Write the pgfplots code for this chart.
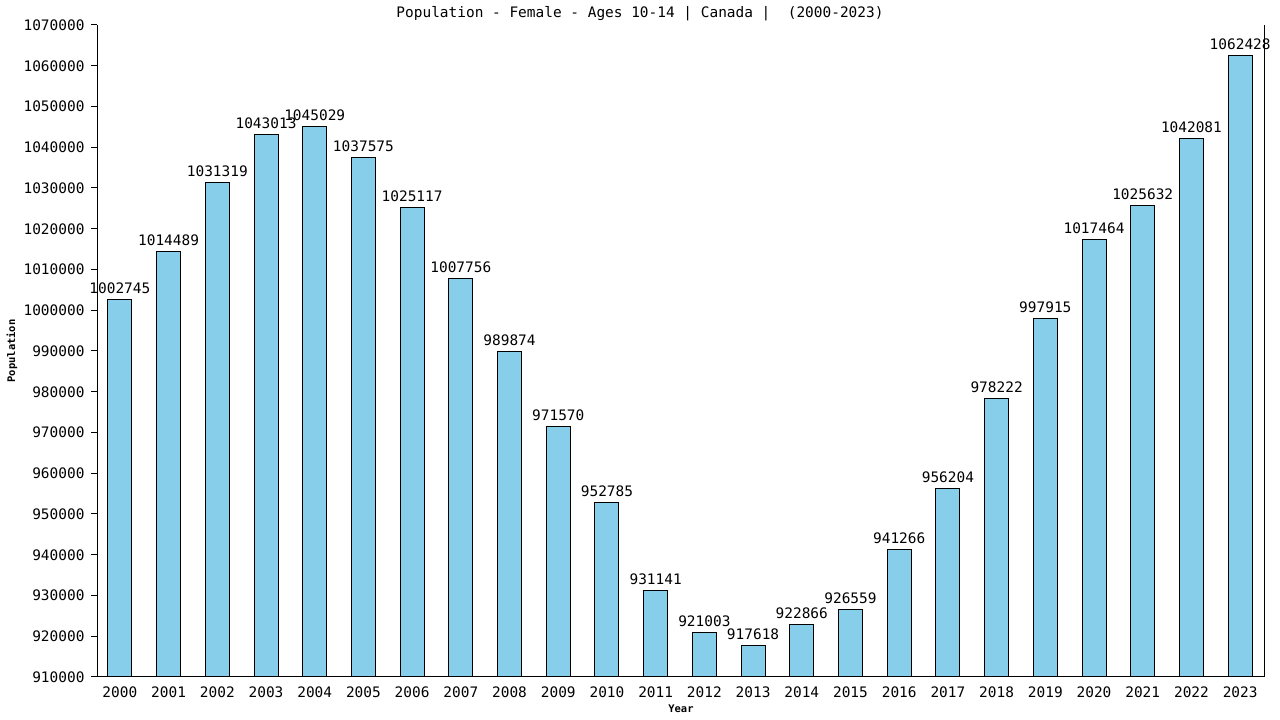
\documentclass[border=0pt]{standalone}
\usepackage{pgfplots}
\pgfplotsset{compat=1.18}
\usepackage{pgfplotstable}
\usepackage{fontspec}
\setmainfont{DejaVu Sans Mono}
\definecolor{barblue}{HTML}{87CEEB}
\pgfplotstableread{
x year value
0 2000 1002745
1 2001 1014489
2 2002 1031319
3 2003 1043013
4 2004 1045029
5 2005 1037575
6 2006 1025117
7 2007 1007756
8 2008 989874
9 2009 971570
10 2010 952785
11 2011 931141
12 2012 921003
13 2013 917618
14 2014 922866
15 2015 926559
16 2016 941266
17 2017 956204
18 2018 978222
19 2019 997915
20 2020 1017464
21 2021 1025632
22 2022 1042081
23 2023 1062428
}\datatable
\begin{document}
\begin{tikzpicture}
\path[use as bounding box] (0,0) rectangle (1280bp,720bp);
\begin{axis}[
  at={(97bp,43bp)}, anchor=south west,
  scale only axis, width=1168bp, height=652bp,
  xmin=-0.47, xmax=23.51,
  ymin=910000, ymax=1070000,
  ytick distance=10000,
  scaled y ticks=false,
  axis x line*=bottom, axis y line*=left,
  axis line style={line width=1bp, -},
  xtick={0,...,23},
  xticklabels={2000,2001,2002,2003,2004,2005,2006,2007,2008,2009,2010,2011,2012,2013,2014,2015,2016,2017,2018,2019,2020,2021,2022,2023},
  x tick style={draw=none},
  y tick style={line width=1bp, black},
  tick align=outside,
  major tick length=6bp,
  yticklabel style={xshift=-3bp},
  tick label style={font=\fontsize{14.5}{16}\selectfont},
  /pgf/number format/.cd, fixed, 1000 sep={}, assume math mode=true,
  /pgfplots/.cd,
  ylabel={Population},
  xlabel={Year},
  label style={font=\fontsize{10.5}{12}\selectfont\bfseries},
  ylabel style={at={(axis description cs:-0.0728,0.5)}, anchor=center},
  xlabel style={at={(axis description cs:0.5,-0.049)}, anchor=center},
  nodes near coords,
  nodes near coords style={font=\fontsize{14.5}{16}\selectfont, yshift=2bp, /pgf/number format/.cd, fixed, 1000 sep={}, assume math mode=true},
  clip=false,
]
\addplot[ybar, bar width=24bp, fill=barblue, draw=black, line width=1bp] table[x=x, y=value] {\datatable};
\draw[line width=1bp] (rel axis cs:1,0) -- (rel axis cs:1,1);
\end{axis}
\node[font=\fontsize{14.5}{16}\selectfont] at (640bp,706bp) {Population - Female - Ages 10-14 | Canada |\ \ (2000-2023)};
\end{tikzpicture}
\end{document}
